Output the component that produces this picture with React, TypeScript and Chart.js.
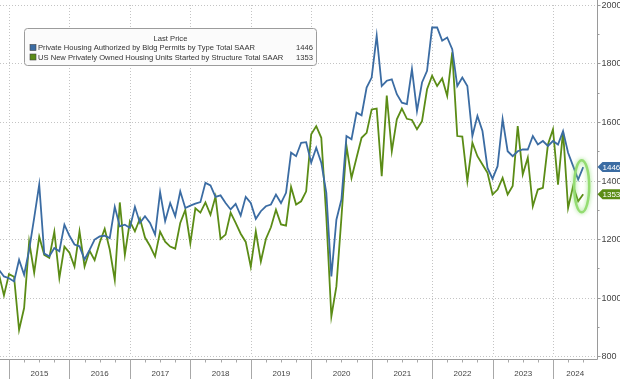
import React, { useEffect, useRef } from 'react';
import { Chart, registerables } from 'chart.js';
Chart.register(...registerables);

// Monthly data, first point = Oct 2014, last = Jun 2024 (thousands, SAAR)
const firstYear = 2014;
const firstMonth = 10;

const permits = [
  1095, 1072, 1066,
  1055, 1129, 1078, 1163, 1272, 1386, 1150, 1141, 1169, 1158, 1249, 1211,
  1181, 1175, 1130, 1163, 1198, 1209, 1211, 1203, 1310, 1243, 1249, 1238,
  1310, 1255, 1278, 1255, 1215, 1360, 1261, 1323, 1278, 1363, 1306, 1314,
  1321, 1326, 1392, 1383, 1344, 1349, 1323, 1301, 1320, 1280, 1344, 1323,
  1269, 1295, 1312, 1318, 1352, 1323, 1358, 1495, 1483, 1529, 1531, 1461,
  1512, 1461, 1358, 1072, 1266, 1335, 1552, 1541, 1632, 1623, 1718, 1752,
  1895, 1723, 1741, 1746, 1695, 1666, 1661, 1781, 1638, 1735, 1775, 1923,
  1923, 1878, 1889, 1849, 1723, 1752, 1723, 1552, 1621, 1569, 1443, 1406,
  1449, 1610, 1500, 1483, 1500, 1506, 1506, 1552, 1523, 1535, 1518, 1535,
  1523, 1569, 1495, 1449, 1403, 1446,
];

const starts = [
  1080, 1007, 1080,
  1071, 889, 964, 1191, 1085, 1208, 1146, 1136, 1225, 1067, 1174, 1153,
  1106, 1226, 1106, 1160, 1128, 1187, 1235, 1164, 1060, 1325, 1146, 1260,
  1226, 1270, 1205, 1176, 1140, 1225, 1191, 1174, 1167, 1255, 1299, 1185,
  1305, 1290, 1325, 1283, 1345, 1200, 1215, 1290, 1255, 1218, 1190, 1105,
  1226, 1123, 1200, 1240, 1300, 1250, 1246, 1378, 1318, 1329, 1363, 1558,
  1586, 1546, 1276, 935, 1038, 1273, 1518, 1409, 1478, 1546, 1563, 1643,
  1646, 1415, 1690, 1500, 1609, 1646, 1611, 1607, 1575, 1603, 1712, 1758,
  1723, 1749, 1689, 1838, 1552, 1550, 1398, 1529, 1483, 1455, 1426, 1352,
  1369, 1409, 1352, 1381, 1586, 1421, 1478, 1312, 1369, 1375, 1523, 1575,
  1386, 1569, 1306, 1381, 1329, 1353,
];

const yearLabels = ['2015', '2016', '2017', '2018', '2019', '2020', '2021', '2022', '2023', '2024'];
const yTicks = [800, 1000, 1200, 1400, 1600, 1800, 2000];
const yMinorTicks = [900, 1100, 1300, 1500, 1700, 1900];
const seriesNames = [
  'Private Housing Authorized by Bldg Permits by Type Total SAAR',
  'US New Privately Owned Housing Units Started by Structure Total SAAR',
];
const lastValues = [1446, 1353];
const legendTitle = 'Last Price';

const BLUE = '#3b6ca3';
const GREEN = '#5b8c16';
const FONT = '"Liberation Sans", Arial, sans-serif';

// x value = month-end position, in months since 1 Jan 2015
const toPoints = (vals: number[]) =>
  vals.map((v, i) => ({ x: (firstYear - 2015) * 12 + firstMonth + i, y: v }));

const bbgPlugin = {
  id: 'bbg',
  beforeDatasetsDraw(chart: any) {
    const { ctx, chartArea: a, scales } = chart;
    const xs = scales.x, ys = scales.y;
    ctx.save();
    ctx.strokeStyle = '#c4c4c4';
    ctx.lineWidth = 1;
    ctx.setLineDash([1, 2]);
    yTicks.forEach((t) => {
      const y = Math.round(ys.getPixelForValue(t)) + 0.5;
      ctx.beginPath();
      ctx.moveTo(a.left, y);
      ctx.lineTo(a.right, y);
      ctx.stroke();
    });
    yearLabels.forEach((_, k) => {
      const x = Math.round(xs.getPixelForValue(k * 12)) + 0.5;
      ctx.beginPath();
      ctx.moveTo(x, a.top);
      ctx.lineTo(x, a.bottom);
      ctx.stroke();
    });
    ctx.restore();
  },
  afterDatasetsDraw(chart: any) {
    const { ctx, chartArea: a, scales } = chart;
    const xs = scales.x, ys = scales.y;
    ctx.save();
    // axes lines
    const axisY = a.bottom + 3.5;
    const axisX = a.right + 0.5;
    ctx.strokeStyle = '#9a9a9a';
    ctx.lineWidth = 1;
    ctx.beginPath();
    ctx.moveTo(a.left, axisY);
    ctx.lineTo(axisX, axisY);
    ctx.moveTo(axisX, 0);
    ctx.lineTo(axisX, axisY);
    ctx.stroke();

    // y ticks & labels
    ctx.fillStyle = '#444';
    ctx.font = `9px ${FONT}`;
    ctx.textAlign = 'left';
    ctx.textBaseline = 'middle';
    yTicks.forEach((t) => {
      const y = Math.round(ys.getPixelForValue(t)) + 0.5;
      ctx.beginPath();
      ctx.moveTo(axisX, y);
      ctx.lineTo(axisX + 3, y);
      ctx.stroke();
      ctx.fillText(String(t), axisX + 4, y + 0.5);
    });
    yMinorTicks.forEach((t) => {
      const y = Math.round(ys.getPixelForValue(t)) + 0.5;
      ctx.beginPath();
      ctx.moveTo(axisX, y);
      ctx.lineTo(axisX + 2, y);
      ctx.stroke();
    });

    // x separators, quarter ticks, year labels
    ctx.strokeStyle = '#a8a8a8';
    ctx.font = `8px ${FONT}`;
    ctx.textAlign = 'center';
    yearLabels.forEach((lab, k) => {
      const x0 = Math.round(xs.getPixelForValue(k * 12)) + 0.5;
      ctx.beginPath();
      ctx.moveTo(x0, axisY);
      ctx.lineTo(x0, chart.height);
      ctx.stroke();
      [3, 6, 9].forEach((q) => {
        const xq = Math.round(xs.getPixelForValue(k * 12 + q)) + 0.5;
        if (xq < a.right) {
          ctx.beginPath();
          ctx.moveTo(xq, axisY);
          ctx.lineTo(xq, axisY + 3);
          ctx.stroke();
        }
      });
      const x1 = Math.min(xs.getPixelForValue(k * 12 + 12), a.right);
      ctx.fillStyle = '#444';
      ctx.fillText(lab, (x0 + x1) / 2, 374);
    });

    // value tags
    const tags = [
      { v: lastValues[0], c: BLUE },
      { v: lastValues[1], c: GREEN },
    ];
    ctx.font = `8px ${FONT}`;
    ctx.textAlign = 'left';
    tags.forEach(({ v, c }) => {
      const y = ys.getPixelForValue(v);
      const h = 5;
      ctx.fillStyle = c;
      ctx.beginPath();
      ctx.moveTo(axisX, y);
      ctx.lineTo(axisX + 5, y - h);
      ctx.lineTo(chart.width, y - h);
      ctx.lineTo(chart.width, y + h);
      ctx.lineTo(axisX + 5, y + h);
      ctx.closePath();
      ctx.fill();
      ctx.fillStyle = '#ffffff';
      ctx.fillText(String(v), axisX + 5, y + 0.5);
    });

    // highlight ellipse around the last points
    const lastX = xs.getPixelForValue((firstYear - 2015) * 12 + firstMonth + permits.length - 1);
    const cy = ys.getPixelForValue(1380);
    ctx.save();
    ctx.strokeStyle = '#94dc72';
    ctx.lineWidth = 2.5;
    ctx.shadowColor = 'rgba(130,220,100,0.8)';
    ctx.shadowBlur = 4;
    ctx.beginPath();
    ctx.ellipse(lastX - 1.5, cy, 7.5, 26, 0, 0, Math.PI * 2);
    ctx.stroke();
    ctx.restore();

    // legend box
    const bx = 24.5, by = 28.5, bw = 292, bh = 37;
    ctx.fillStyle = '#fbfbfb';
    ctx.strokeStyle = '#9c9c9c';
    ctx.lineWidth = 1;
    ctx.beginPath();
    ctx.roundRect(bx, by, bw, bh, 3);
    ctx.fill();
    ctx.stroke();
    ctx.fillStyle = '#333';
    ctx.font = `7.6px ${FONT}`;
    ctx.textAlign = 'center';
    ctx.fillText(legendTitle, bx + bw / 2, 39);
    const rows = [
      { name: seriesNames[0], v: lastValues[0], c: BLUE, y: 47.5 },
      { name: seriesNames[1], v: lastValues[1], c: GREEN, y: 57 },
    ];
    rows.forEach((r) => {
      ctx.fillStyle = r.c;
      ctx.fillRect(30, r.y - 3, 6, 6);
      ctx.strokeStyle = '#444';
      ctx.lineWidth = 0.6;
      ctx.strokeRect(30, r.y - 3, 6, 6);
      ctx.fillStyle = '#333';
      ctx.textAlign = 'left';
      ctx.fillText(r.name, 38, r.y + 0.5);
      ctx.textAlign = 'right';
      ctx.fillText(String(r.v), 313, r.y + 0.5);
    });
    ctx.restore();
  },
};

export default function App() {
  const ref = useRef<HTMLCanvasElement>(null);
  useEffect(() => {
    if (!ref.current) return;
    const chart = new Chart(ref.current, {
      type: 'line',
      data: {
        datasets: [
          {
            label: seriesNames[0],
            data: toPoints(permits),
            borderColor: BLUE,
            borderWidth: 1.8,
            pointRadius: 0,
            tension: 0,
          },
          {
            label: seriesNames[1],
            data: toPoints(starts),
            borderColor: GREEN,
            borderWidth: 1.8,
            pointRadius: 0,
            tension: 0,
          },
        ],
      },
      options: {
        animation: false,
        responsive: false,
        parsing: true,
        layout: { padding: { left: 0, right: 23, top: 5, bottom: 23 } },
        plugins: { legend: { display: false }, tooltip: { enabled: false } },
        scales: {
          x: { type: 'linear', min: -1.787, max: 116.74, display: false },
          y: { type: 'linear', min: 800, max: 2000, display: false },
        },
      },
      plugins: [bbgPlugin],
    });
    return () => chart.destroy();
  }, []);
  return (
    <div style={{ position: 'fixed', left: 0, top: 0, width: 620, height: 379, background: '#fff' }}>
      <canvas ref={ref} width={620} height={379} style={{ display: 'block' }} />
    </div>
  );
}
